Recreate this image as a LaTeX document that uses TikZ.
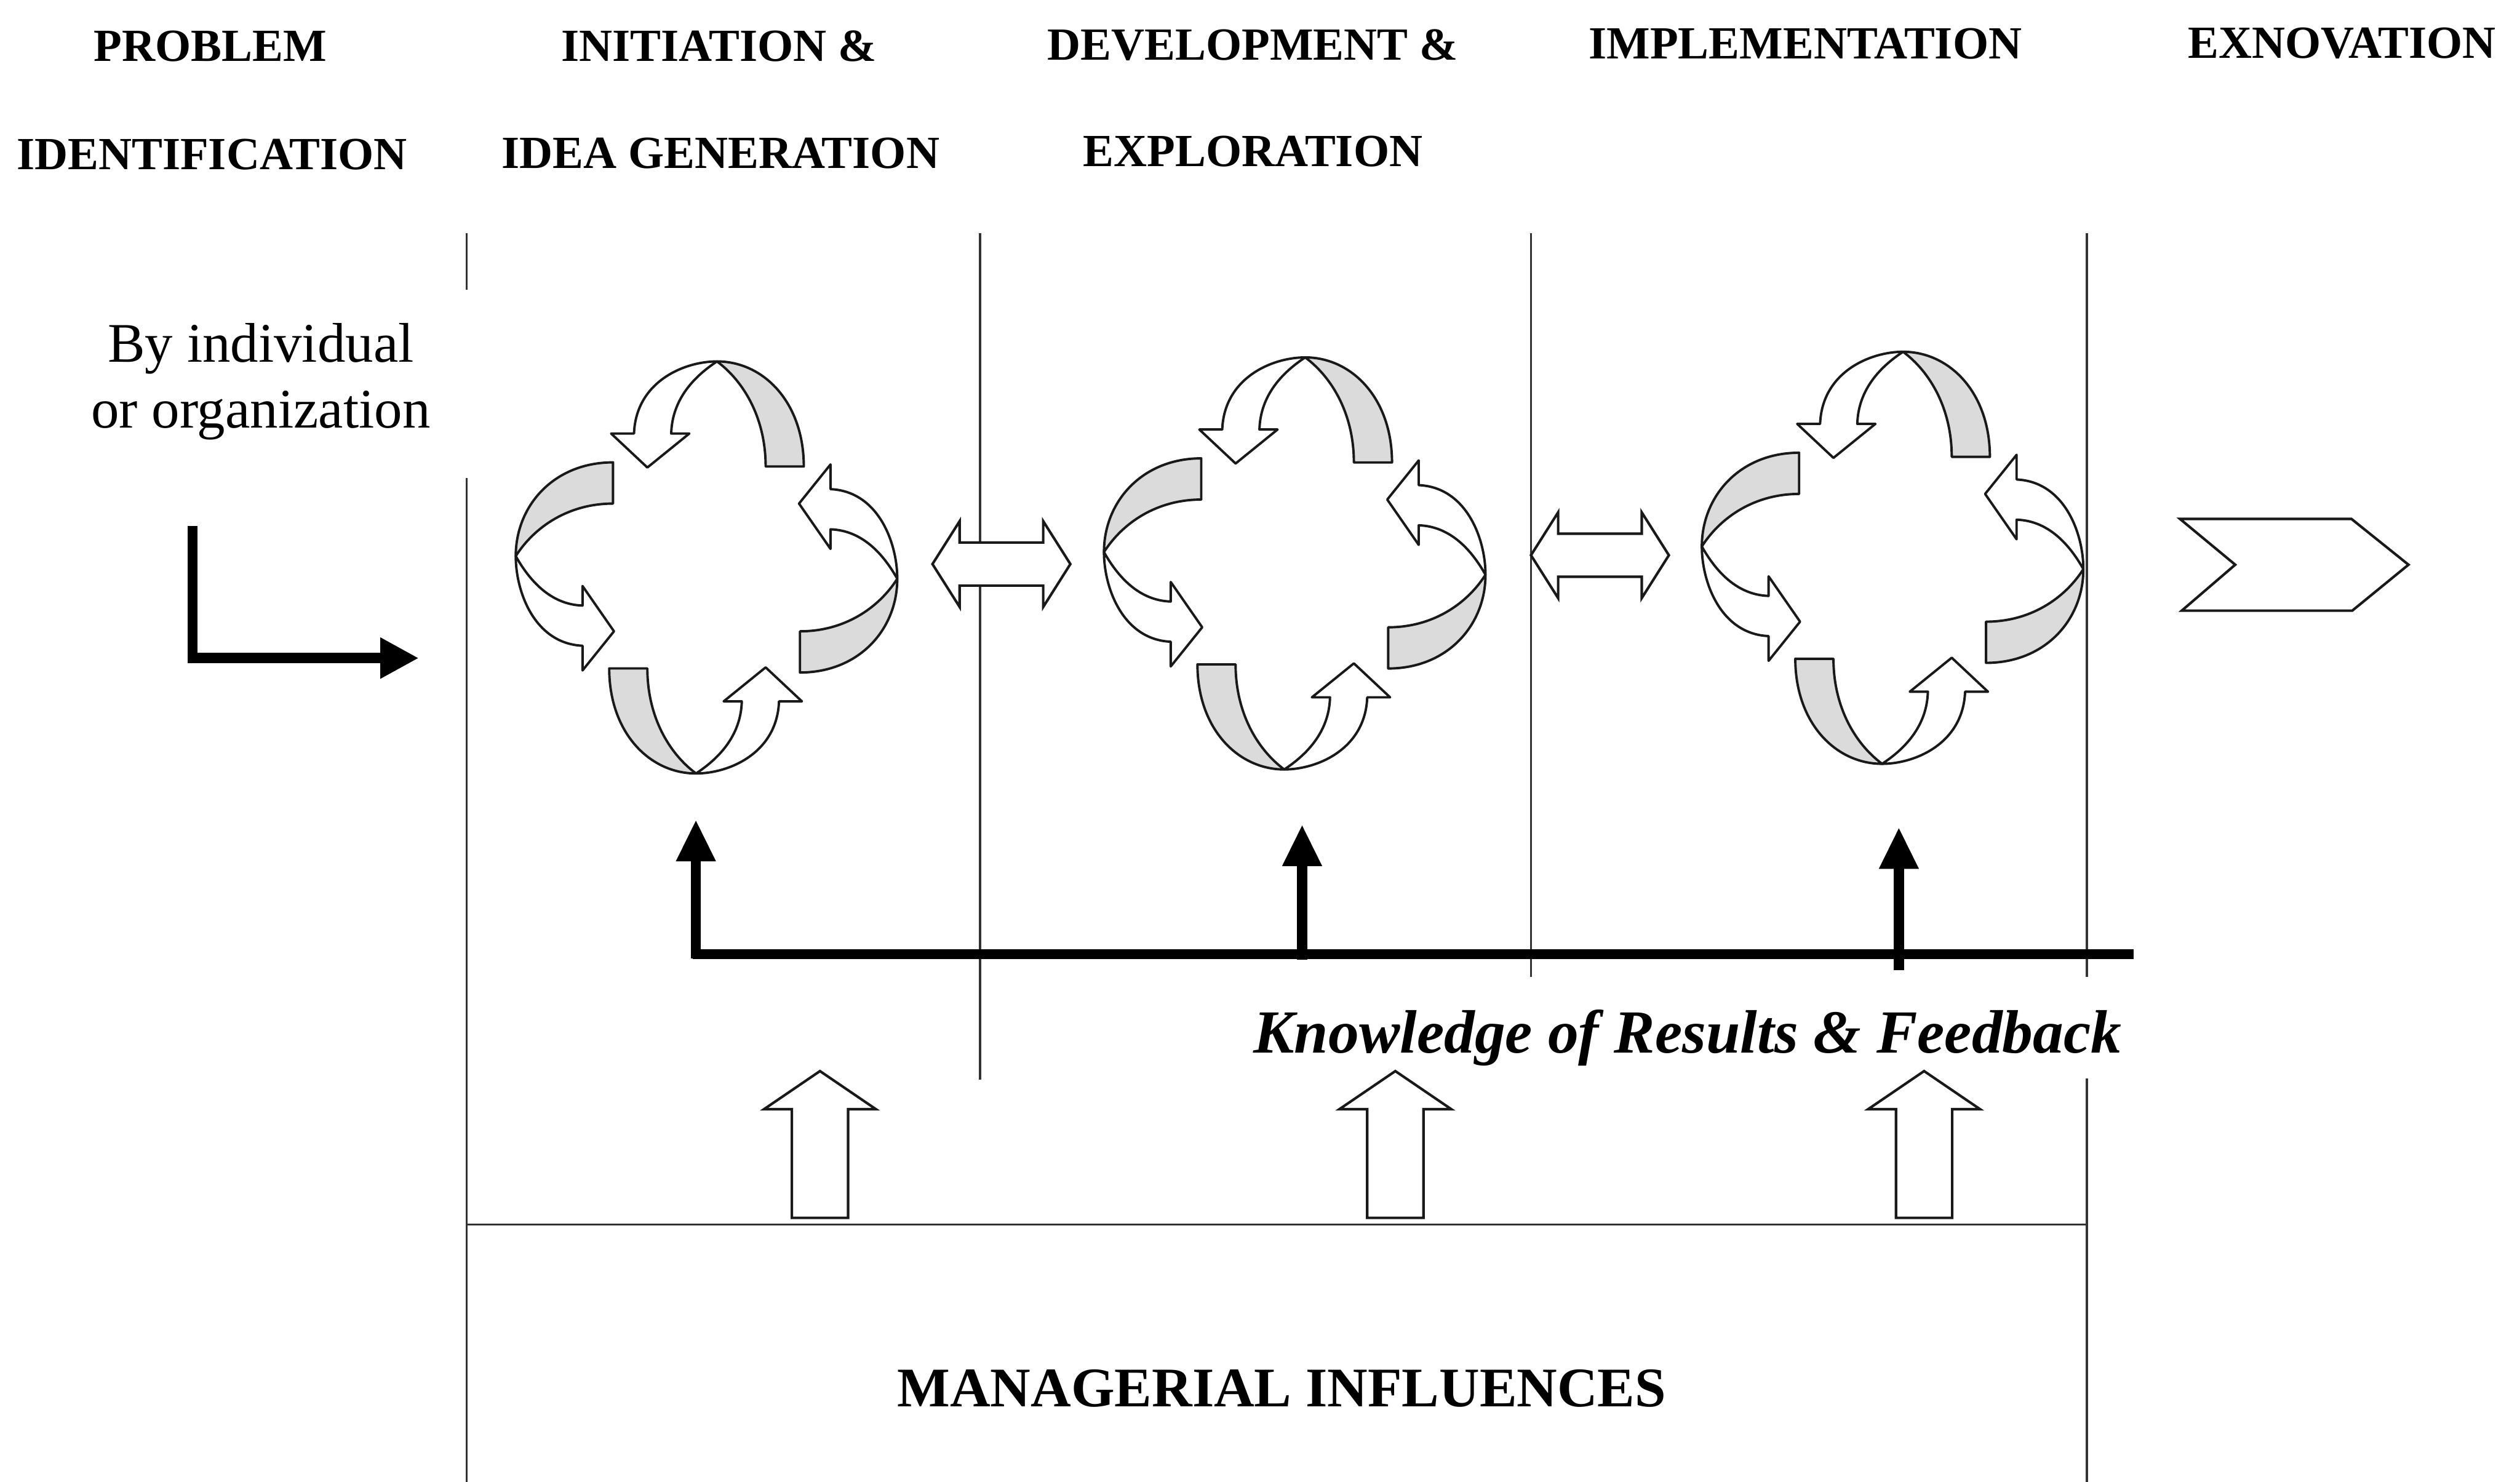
\documentclass[tikz,border=0pt]{standalone}
\usepackage{fontspec}
\setmainfont{Liberation Serif}
\usetikzlibrary{arrows.meta}
\tikzset{
  phaseline/.style={draw=black!80, line width=0.7pt},
  band/.style={draw=black!90, line width=0.85pt, line join=round},
  backband/.style={band, fill=black!14},
  frontband/.style={band, fill=white},
  hollow/.style={draw=black!90, fill=white, line width=0.9pt, line join=miter},
  heading/.style={font=\bfseries\fontsize{16.3pt}{19pt}\selectfont, anchor=base, inner sep=0pt},
  sidenote/.style={font=\fontsize{19.8pt}{23pt}\selectfont, anchor=base, inner sep=0pt},
  feedbacklabel/.style={font=\bfseries\itshape\fontsize{21.7pt}{26pt}\selectfont, anchor=base east, inner sep=0pt},
  basetitle/.style={font=\bfseries\fontsize{19.8pt}{24pt}\selectfont, anchor=base, inner sep=0pt},
  thickbar/.style={line width=3.6pt, draw=black},
  thickarrow/.style={thickbar, -{Triangle[length=0.52cm, width=0.46cm]}},
  entryarrow/.style={thickbar, line join=miter, -{Triangle[length=0.48cm, width=0.48cm]}},
  % hollow double-headed arrow between two phases
  twoway/.pic={
    \path[hollow] (-42.9,0) -- (-26,-26.7) -- (-26,-13.4) -- (26,-13.4) -- (26,-26.7)
        -- (42.9,0) -- (26,26.7) -- (26,13.4) -- (-26,13.4) -- (-26,26.7) -- cycle;
  },
  % hollow block arrow pointing up, origin at the middle of its foot
  upblock/.pic={
    \path[hollow] (-17.5,0) -- (-17.5,-67.6) -- (-34.8,-67.6) -- (0,-91.3)
        -- (34.8,-67.6) -- (17.5,-67.6) -- (17.5,0) -- cycle;
  },
}
% one twisted ribbon arrow of a cycle, in its top position
% (unit = 1/100 of the cycle radius, y pointing down)
\newcommand\twistpiece{%
  \path[backband] (5.5,-100) .. controls (30,-100) and (51,-80) .. (51,-49)
      -- (31,-49) .. controls (31,-72) and (20,-90) .. (5.5,-100) -- cycle;
  \path[frontband] (5.5,-100) .. controls (-12,-100) and (-37,-90) .. (-38,-65)
      -- (-50,-65) -- (-31,-48.5) -- (-9,-65) -- (-18.5,-65)
      .. controls (-18,-82) and (-6,-93) .. (5.5,-100) -- cycle;
}
\begin{document}
\begin{tikzpicture}[x=0.02cm, y=-0.02cm]
\useasboundingbox (0,0) rectangle (1568,922);

% phase separators and the managerial band
\coordinate (v1top) at (290.5,145);   \coordinate (v1gap) at (290.5,180.2);
\coordinate (v1resume) at (290.5,297.6); \coordinate (v1foot) at (290.5,922);
\coordinate (v2top) at (609.8,145);   \coordinate (v2foot) at (609.8,672);
\coordinate (v3top) at (952.6,145);   \coordinate (v3foot) at (952.6,608);
\coordinate (v4top) at (1298.5,145);  \coordinate (v4gap) at (1298.5,608);
\coordinate (v4resume) at (1298.5,671); \coordinate (v4foot) at (1298.5,922);
\coordinate (bandL) at (290.5,761.9); \coordinate (bandR) at (1298.5,761.9);
\draw[phaseline] (v1top) -- (v1gap);
\draw[phaseline] (v1resume) -- (v1foot);
\draw[phaseline] (v2top) -- (v2foot);
\draw[phaseline] (v3top) -- (v3foot);
\draw[phaseline] (v4top) -- (v4gap);
\draw[phaseline] (v4resume) -- (v4foot);
\draw[phaseline] (bandL) -- (bandR);

% headings
\node[heading] (h1a) at (130.9,38) {PROBLEM};
\node[heading] (h1b) at (131.9,105.5) {IDENTIFICATION};
\node[heading] (h2a) at (447.3,38) {INITIATION \&};
\node[heading] (h2b) at (448.4,104.8) {IDEA GENERATION};
\node[heading] (h3a) at (779.5,37.5) {DEVELOPMENT \&};
\node[heading] (h3b) at (779.6,103.5) {EXPLORATION};
\node[heading] (h4a) at (1123.3,36.7) {IMPLEMENTATION};
\node[heading] (h5a) at (1457.2,36.2) {EXNOVATION};

% entry of the problem
\node[sidenote] (who1) at (162.3,225.2) {By individual};
\node[sidenote] (who2) at (162.3,266.2) {or organization};
\coordinate (inTop) at (119.9,327.4);
\coordinate (inCorner) at (119.9,409.5);
\coordinate (inTip) at (260.6,409.5);
\draw[entryarrow] (inTop) -- (inCorner) -- (inTip);

% the three cycles of ribbon arrows
\foreach \cx/\cy in {439.6/353.1, 805.6/350.6, 1177.6/347.1}{
  \begin{scope}[shift={(\cx,\cy)}, xscale=1.187, yscale=1.282]
    \foreach \turn in {0,-90,180,90}{
      \begin{scope}[rotate=\turn]
        \twistpiece
      \end{scope}
    }
  \end{scope}
}

% links between phases and the exit chevron
\pic at (623.1,351) {twoway};
\pic at (995.5,345.5) {twoway};
\coordinate (chA) at (1356.4,322.9); \coordinate (chB) at (1463.1,322.9);
\coordinate (chC) at (1498.6,351.4); \coordinate (chD) at (1463.6,380);
\coordinate (chE) at (1357.5,380);   \coordinate (chF) at (1390.8,351.4);
\path[hollow] (chA) -- (chB) -- (chC) -- (chD) -- (chE) -- (chF) -- cycle;

% feedback loop
\coordinate (fbStart) at (431,593.7);
\coordinate (fbEnd) at (1327.4,593.7);
\draw[thickbar] (fbStart) -- (fbEnd);
\coordinate (fbA) at (433,596.5);    \coordinate (fbAtip) at (433,510);
\coordinate (fbB) at (810.2,597);    \coordinate (fbBtip) at (810.2,513);
\coordinate (fbC) at (1181.5,603.7); \coordinate (fbCtip) at (1181.5,514.7);
\draw[thickarrow] (fbA) -- (fbAtip);
\draw[thickarrow] (fbB) -- (fbBtip);
\draw[thickarrow] (fbC) -- (fbCtip);
\node[feedbacklabel] (fbtext) at (1320.4,655) {Knowledge of Results \& Feedback};

% managerial influences
\pic at (510.2,757.8) {upblock};
\pic at (868.2,757.8) {upblock};
\pic at (1197.2,757.8) {upblock};
\node[basetitle] (mgmt) at (797.5,875.4) {MANAGERIAL INFLUENCES};
\end{tikzpicture}
\end{document}
